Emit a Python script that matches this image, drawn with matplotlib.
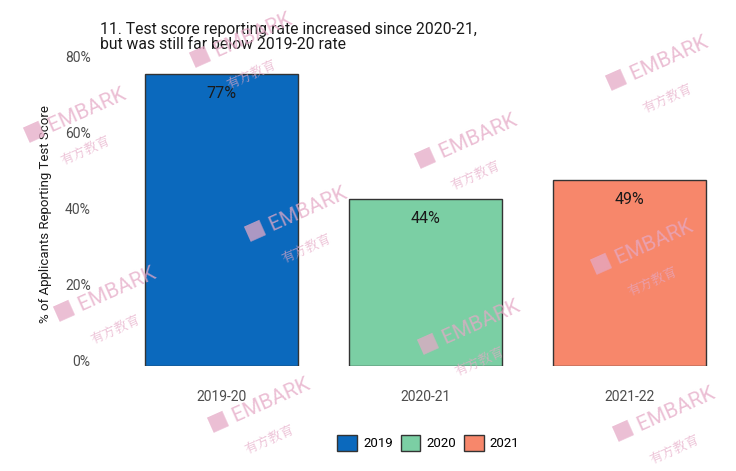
import matplotlib.pyplot as plt
from matplotlib.patches import Patch

years = ['2019-20', '2020-21', '2021-22']
rates = [77, 44, 49]
legend_labels = ['2019', '2020', '2021']
colors = ['#0b69bd', '#7bcfa4', '#f7876b']
yticks = [0, 20, 40, 60, 80]

# watermark anchor points (figure fraction)
marks = [(0.255, 0.85), (0.03, 0.69), (0.82, 0.80), (0.56, 0.635),
         (0.33, 0.48), (0.80, 0.41), (0.07, 0.31), (0.565, 0.24),
         (0.28, 0.075), (0.83, 0.055)]

plt.rcParams['font.family'] = ['Roboto', 'Noto Sans CJK SC', 'DejaVu Sans']

fig = plt.figure(figsize=(7.36, 4.71), dpi=100)
ax = fig.add_axes([0.1345, 0.223, 0.8655, 0.645])

x = range(1, len(years) + 1)
ax.bar(x, rates, width=0.75, color=colors, edgecolor='#333333', linewidth=1)
for xi, r in zip(x, rates):
    ax.text(xi, r - 3.2, f'{r}%', ha='center', va='top', fontsize=11.5, color='#1a1a1a')

ax.set_xlim(0.4, 3.52)
ax.set_ylim(0, 80)
ax.set_xticks(list(x))
ax.set_xticklabels(years)
ax.set_yticks(yticks)
ax.set_yticklabels([f'{t}%' for t in yticks])
ax.tick_params(length=0, labelsize=10, labelcolor='#4d4d4d')
ax.tick_params(axis='x', pad=17)
ax.tick_params(axis='y', pad=6)
for lbl in ax.get_yticklabels():
    lbl.set_va('baseline')
for s in ax.spines.values():
    s.set_visible(False)
ax.set_ylabel('% of Applicants Reporting Test Score', fontsize=9.5, color='#1a1a1a', labelpad=9)

fig.text(0.136, 0.889, '11. Test score reporting rate increased since 2020-21,\nbut was still far below 2019-20 rate',
         fontsize=11.3, color='#1a1a1a', va='bottom', linespacing=1.0)

handles = [Patch(facecolor=c, edgecolor='#333333', label=l) for c, l in zip(colors, legend_labels)]
fig.legend(handles=handles, loc='center', bbox_to_anchor=(0.582, 0.06), ncol=3, frameon=False,
           fontsize=9.5, handlelength=1.5, handleheight=1.5, handletextpad=0.45, columnspacing=0.6)

for mx, my in marks:
    fig.text(mx, my, '■ EMBARK', fontsize=15, color='#e5a9c6', alpha=0.75, rotation=24,
             ha='left', va='bottom')
    fig.text(mx + 0.05, my - 0.045, '有方教育', fontsize=9.5, color='#e5a9c6', alpha=0.75,
             rotation=24, ha='left', va='bottom', family=['Noto Serif CJK SC', 'Noto Sans CJK SC'])

fig.savefig('out.png', dpi=100)
